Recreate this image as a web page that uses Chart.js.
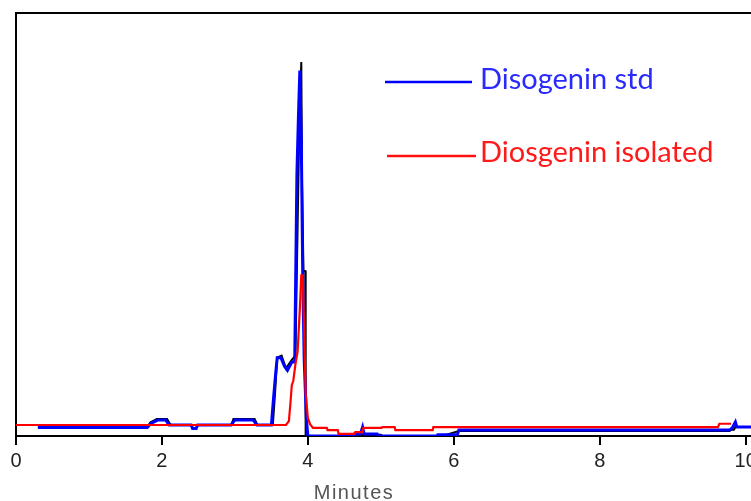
<!DOCTYPE html>
<html>
<head>
<meta charset="utf-8">
<script src="https://cdn.jsdelivr.net/npm/chart.js@4.4.1/dist/chart.umd.min.js"></script>
<style>
    html, body { margin: 0; padding: 0; background: #fff; overflow: hidden; }
    #wrap { position: relative; width: 804px; height: 501px; }
</style>
</head>
<body>
<div id="wrap"><canvas id="chart"></canvas></div>
<script>
    // 축 눈금
    const xTicks = [0, 2, 4, 6, 8, 10];

    // Disogenin std (파란색)
    const stdTime = [0.30, 1.80, 1.85, 1.95, 2.05, 2.10, 2.40, 2.42, 2.47, 2.49, 2.95, 3.00, 3.25, 3.30, 3.50, 3.53, 3.56, 3.58, 3.63, 3.68, 3.72, 3.78, 3.82, 3.85, 3.87, 3.89, 3.91, 3.93, 3.95, 3.98, 4.00, 4.63, 4.64, 4.72, 4.75, 4.77, 4.95, 4.97, 5.77, 5.78, 6.05, 6.07, 9.78, 9.82, 9.86, 9.88, 10.8];
    const stdVal  = [2.0,  2.0,  3.0,  3.8,  3.8,  2.6,  2.6,  1.8,  1.8,  2.6,  2.6,  3.8,  3.8,  2.6,  2.6,  9,    15,   18.5, 18.5, 16.5, 15.5, 17.5, 17.5, 62,   75,   86.4, 70,   38,   18,   4,    0,    0,    0.5,  0.5,  2.1,  0.5,  0.5,  0,    0,    0.3,  0.3,  1.4,  1.4,  2.0,  3.3,  2.1,  2.1];

    // Diosgenin isolated (빨간색)
    const isoTime = [0,   3.70, 3.74, 3.76, 3.78, 3.80, 3.83, 3.86, 3.89, 3.91, 3.93, 3.95, 3.97, 4.00, 4.03, 4.07, 4.26, 4.27, 4.41, 4.42, 4.64, 4.65, 4.75, 4.76, 5.01, 5.02, 5.19, 5.20, 5.71, 5.72, 9.62, 9.64, 9.80];
    const isoVal  = [2.6, 2.6,  3.5,  7.5,  12,   13,   17,   20,   30,   38,   38,   25,   10,   4.3,  2.8,  1.9,  1.9,  1.4,  1.4,  0.5,  0.5,  0.9,  0.9,  1.9,  1.9,  2.1,  2.1,  1.4,  1.4,  2.1,  2.1,  2.9,  2.9];

    // 세 번째 트레이스 (검은색, 범례 없음)
    const refTime = [0.30, 1.80, 1.84, 1.93, 2.07, 2.12, 2.95, 2.98, 3.27, 3.31, 3.52, 3.55, 3.58, 3.64, 3.70, 3.78, 3.83, 3.86, 3.88, 3.91, 3.92, 3.94, 3.965, 3.97, 4.70, 4.72, 5.00, 5.02, 5.77, 5.90, 6.07, 9.78, 9.80, 9.84, 9.86, 10.8];
    const refVal  = [2.0,  2.0,  3.2,  4.0,  4.0,  2.6,  2.6,  4.0,  4.0,  2.6,  2.6,  10,   18.5, 19,   16,   18,   19,   50,   70,   88.4, 60,   39,   39,    0,    0,    0.3,  0.3,  0,    0,    0.3,  1.2,  1.2,  1.5,  1.5,  2.1,  2.1];

    const legendItems = ['Disogenin std', 'Diosgenin isolated'];
    const xTitle = 'Minutes';

    const toPoints = (xs, ys) => xs.map((x, i) => ({ x: x, y: ys[i] }));

    // 범례와 축 제목
    const decorPlugin = {
        id: 'decor',
        afterDatasetsDraw(chart) {
            const ctx = chart.ctx;
            ctx.save();
            ctx.lineWidth = 2.5;
            ctx.strokeStyle = '#0000ff';
            ctx.beginPath(); ctx.moveTo(385, 82); ctx.lineTo(472, 82); ctx.stroke();
            ctx.strokeStyle = '#ff1010';
            ctx.beginPath(); ctx.moveTo(387, 156); ctx.lineTo(476, 156); ctx.stroke();
            ctx.font = '29px Lato';
            ctx.textBaseline = 'middle';
            ctx.fillStyle = '#2a2aff';
            ctx.fillText(legendItems[0], 480, 80);
            ctx.fillStyle = '#ff1a1a';
            ctx.fillText(legendItems[1], 480, 153);

            ctx.font = '20px "Liberation Sans"';
            ctx.letterSpacing = '1.5px';
            ctx.fillStyle = '#555';
            ctx.textAlign = 'center';
            ctx.fillText(xTitle, 354, 493);
            ctx.restore();
        }
    };

    new Chart(document.getElementById('chart'), {
        type: 'line',
        data: {
            datasets: [{
                label: legendItems[1],
                data: toPoints(isoTime, isoVal),
                borderColor: '#ff0000',
                borderWidth: 2.2,
                pointRadius: 0,
                tension: 0
            }, {
                label: legendItems[0],
                data: toPoints(stdTime, stdVal),
                borderColor: '#0000ff',
                borderWidth: 3,
                pointRadius: 0,
                tension: 0
            }, {
                label: 'ref',
                data: toPoints(refTime, refVal),
                borderColor: '#000000',
                borderWidth: 2,
                pointRadius: 0,
                tension: 0
            }]
        },
        options: {
            responsive: true,
            maintainAspectRatio: false,
            animation: false,
            layout: { padding: { left: 16, top: 13, right: 0, bottom: 24 } },
            plugins: {
                legend: { display: false },
                tooltip: { enabled: false }
            },
            scales: {
                x: {
                    type: 'linear',
                    min: 0,
                    max: 10.8,
                    afterBuildTicks: (scale) => { scale.ticks = xTicks.map(v => ({ value: v })); },
                    ticks: {
                        color: '#222',
                        font: { family: 'Liberation Sans', size: 20 },
                        padding: 4,
                        maxRotation: 0,
                        autoSkip: false
                    },
                    grid: { drawOnChartArea: false, drawTicks: true, tickLength: 9, color: '#000', lineWidth: 2 },
                    border: { display: true, color: '#000', width: 2 }
                },
                xTop: {
                    type: 'linear',
                    position: 'top',
                    min: 0,
                    max: 10.8,
                    ticks: { display: false },
                    grid: { drawOnChartArea: false, drawTicks: false },
                    border: { display: true, color: '#000', width: 2 }
                },
                y: {
                    min: 0,
                    max: 100,
                    ticks: { display: false },
                    grid: { drawOnChartArea: false, drawTicks: false },
                    border: { display: true, color: '#000', width: 2 }
                }
            }
        },
        plugins: [decorPlugin]
    });
</script>
</body>
</html>
